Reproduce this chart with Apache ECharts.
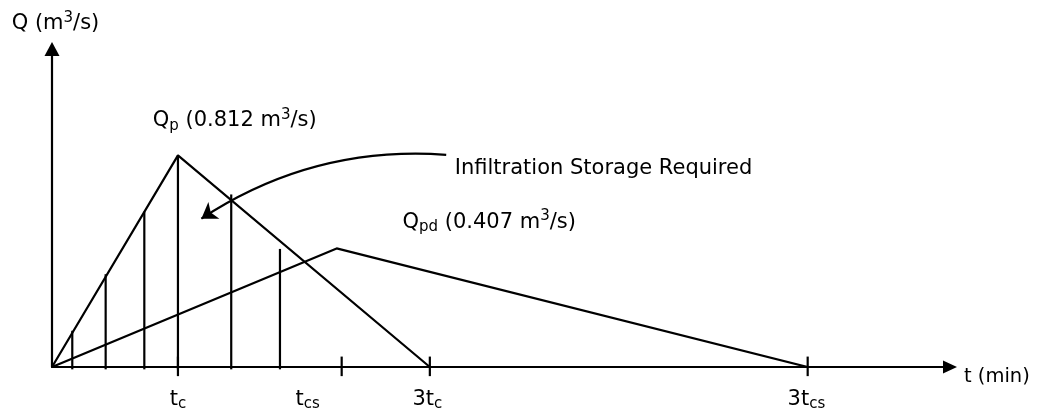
<!DOCTYPE html>
<html>
<head>
<meta charset="utf-8">
<script src="https://cdn.jsdelivr.net/npm/echarts@6/dist/echarts.min.js"></script>
<style>
  html, body { margin: 0; padding: 0; background: #fff; }
  #chart { width: 1045px; height: 414px; }
</style>
</head>
<body>
<div id="chart"></div>
<script>
// hydrographs (x in chart units, t_c = 10)
const inflowHydro = [[0, 0], [10, 0.812], [30, 0]];
const outflowHydro = [[0, 0], [22.6, 0.455], [60, 0]];

// vertical hatch lines: [x, bottom, top]
const hatchLines = [
    [1.61, -0.009, 0.139],
    [4.26, -0.009, 0.356],
    [7.33, -0.009, 0.596],
    [10, -0.009, 0.812],
    [14.23, -0.009, 0.662],
    [18.1, -0.009, 0.453]
];

// tick marks on the t axis
const tickMarks = [[10, -0.035, 0.04], [23, -0.035, 0.04], [30, -0.035, 0.04], [60, -0.035, 0.04]];
const tickLabelPos = [10, 20.3, 29.8, 59.9];
const tickLabelText = ['{m|t}{sub|c}', '{m|t}{sub|cs}', '{m|3t}{sub|c}', '{m|3t}{sub|cs}'];

// annotations
const notes = [
    { pos: [8.0, 0.944], text: '{m|Q}{sub|p}{m| (0.812 m}{sup|3}{m|/s)}' },
    { pos: [27.83, 0.556], text: '{m|Q}{sub|pd}{m| (0.407 m}{sup|3}{m|/s)}' },
    { pos: [31.98, 0.76], text: '{m|Infiltration Storage Required}' }
];
const arrowCoords = [[31.3, 0.814], [11.86, 0.569]];

const FONT = 'DejaVu Sans';
const rich = {
    m: { fontFamily: FONT, fontSize: 21, lineHeight: 25, color: '#000' },
    sub: { fontFamily: FONT, fontSize: 15, lineHeight: 15, color: '#000', padding: [10, 0, 0, 0] },
    sup: { fontFamily: FONT, fontSize: 15, lineHeight: 15, color: '#000', padding: [0, 0, 11, 0] },
    n: { fontFamily: FONT, fontSize: 19.5, lineHeight: 22, color: '#000', padding: [20, 0, 0, 0] }
};

const chart = echarts.init(document.getElementById('chart'));

const vLine = (params, api) => {
    const p0 = api.coord([api.value(0), api.value(1)]);
    const p1 = api.coord([api.value(0), api.value(2)]);
    return {
        type: 'line',
        shape: { x1: p0[0], y1: p0[1], x2: p1[0], y2: p1[1] },
        style: { stroke: '#000', lineWidth: 2.2 }
    };
};

const option = {
    animation: false,
    textStyle: { fontFamily: FONT, color: '#000' },
    grid: { left: 52, right: 95, top: 49, bottom: 47 },
    xAxis: {
        type: 'value',
        min: 0,
        max: 71.3,
        splitLine: { show: false },
        axisTick: { show: false },
        axisLine: {
            lineStyle: { color: '#000', width: 2.2 },
            symbol: ['none', 'triangle'],
            symbolSize: [13, 14]
        },
        axisLabel: {
            customValues: tickLabelPos,
            margin: 20,
            color: '#000',
            formatter: v => tickLabelText[tickLabelPos.indexOf(v)] || '',
            rich: rich
        },
        name: '{n|t (min)}',
        nameLocation: 'end',
        nameGap: 14,
        nameTextStyle: { color: '#000', rich: rich }
    },
    yAxis: {
        type: 'value',
        min: 0,
        max: 1.22,
        splitLine: { show: false },
        axisTick: { show: false },
        axisLabel: { show: false },
        axisLine: {
            lineStyle: { color: '#000', width: 2.2 },
            symbol: ['none', 'triangle'],
            symbolSize: [15, 14]
        },
        name: '{m|Q (m}{sup|3}{m|/s)}',
        nameLocation: 'end',
        nameGap: 13,
        nameTextStyle: { color: '#000', padding: [0, 0, 0, 7], rich: rich }
    },
    series: [
        {
            type: 'line',
            data: inflowHydro,
            showSymbol: false,
            lineStyle: { color: '#000', width: 2.2 }
        },
        {
            type: 'line',
            data: outflowHydro,
            showSymbol: false,
            lineStyle: { color: '#000', width: 2.2 }
        },
        {
            type: 'custom',
            data: hatchLines,
            encode: { x: 0, y: [1, 2] },
            renderItem: vLine
        },
        {
            type: 'custom',
            data: tickMarks,
            encode: { x: 0, y: [1, 2] },
            renderItem: vLine
        },
        {
            type: 'lines',
            coordinateSystem: 'cartesian2d',
            symbol: ['none', 'arrow'],
            symbolSize: 15,
            lineStyle: { color: '#000', width: 2.2, curveness: -0.17, opacity: 1 },
            data: [{ coords: arrowCoords }]
        },
        {
            type: 'scatter',
            symbolSize: 0,
            silent: true,
            itemStyle: { opacity: 1 },
            data: notes.map(n => ({
                value: n.pos,
                label: {
                    show: true,
                    position: 'right',
                    distance: 0,
                    color: '#000',
                    formatter: n.text,
                    rich: rich
                }
            }))
        }
    ]
};

chart.setOption(option);
</script>
</body>
</html>
